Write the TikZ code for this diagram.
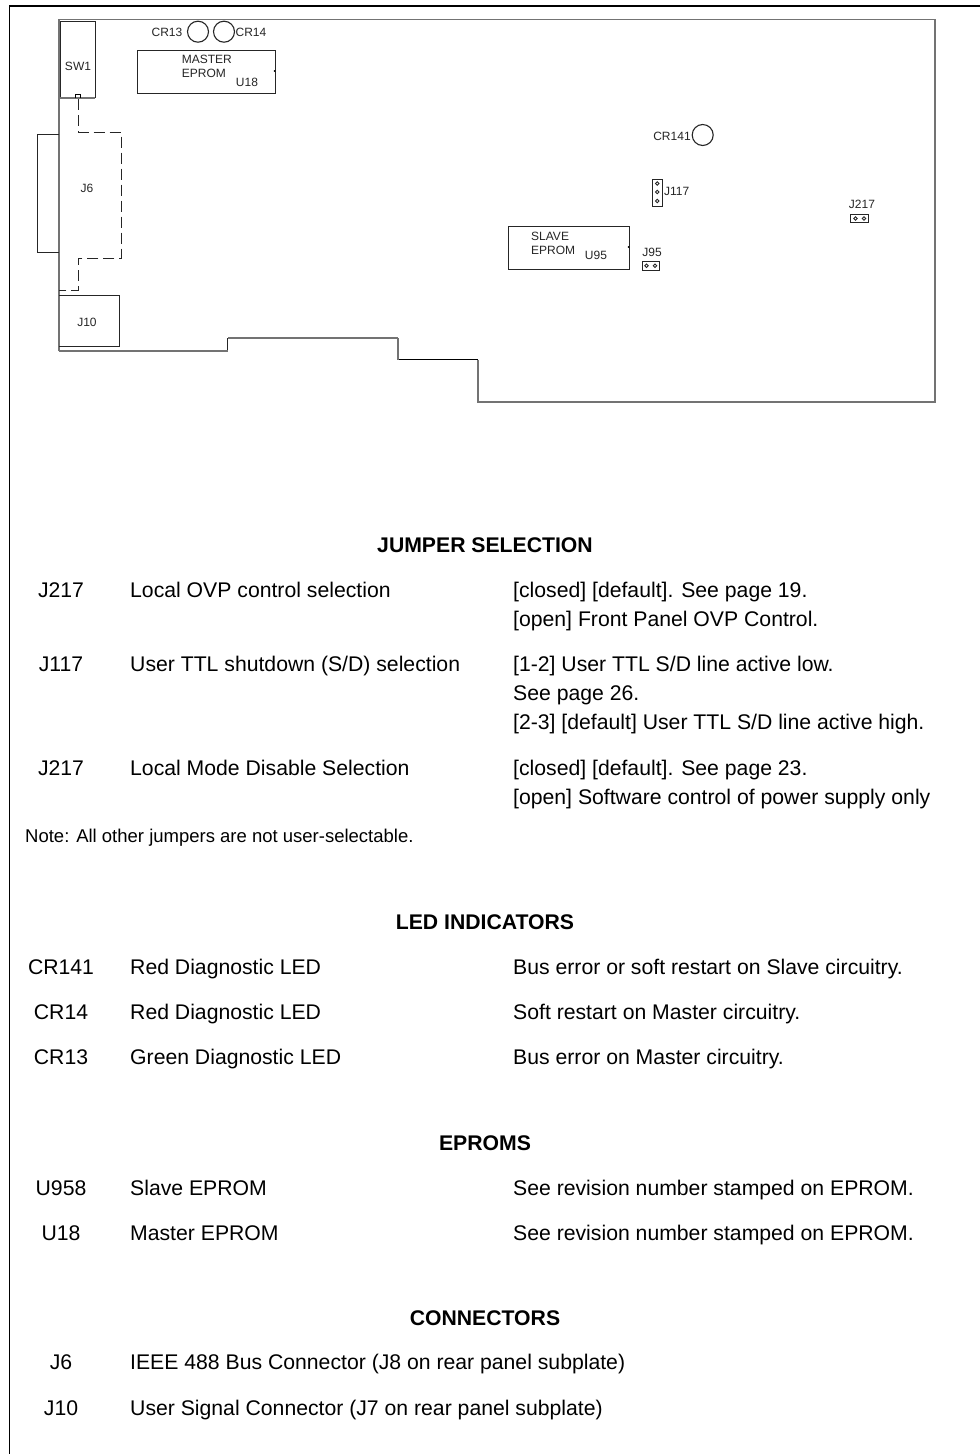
\documentclass[tikz,border=0pt]{standalone}
\usepackage{fontspec}
\setmainfont{Liberation Sans}
\begin{document}
\begin{tikzpicture}[x=1pt,y=-1pt,
  line cap=butt,
  pageline/.style={line width=1.5pt,black},
  boardline/.style={line width=1.7pt,black!55},
  thinpart/.style={line width=1pt,black!85},
  dashpart/.style={line width=.9pt,black!85,dash pattern=on 11pt off 5pt},
  hole/.style={draw,circle,line width=.9pt,inner sep=0pt,minimum size=3.6pt,black!85},
  led/.style={draw,circle,line width=1.1pt,inner sep=0pt,minimum size=21pt,black!85},
  silk/.style={inner sep=0pt,font=\fontsize{12}{12}\selectfont,text=black!85},
  silkl/.style={silk,anchor=base west},
  silkc/.style={silk,anchor=base},
  head/.style={inner sep=0pt,anchor=base,font=\bfseries\fontsize{21.2}{21}\selectfont},
  cola/.style={inner sep=0pt,anchor=base,font=\fontsize{21.2}{21}\selectfont},
  colb/.style={inner sep=0pt,anchor=base west,font=\fontsize{21.2}{21}\selectfont},
  notetext/.style={inner sep=0pt,anchor=base west,font=\fontsize{18.5}{18}\selectfont},
]
\useasboundingbox (0,0) rectangle (980,1454);
\fill[white] (0,0) rectangle (980,1454);
% page frame
\draw[pageline] (980,6) -- (9.5,6) -- (9.5,1454);
% board outline
\draw[boardline] (59,351) -- (59,19.5) -- (935,19.5) -- (935,402) -- (478,402) -- (478,359.5);
\draw[line width=1.1pt] (478,359.5) -- (398,359.5);
\draw[boardline] (398,359.5) -- (398,338);
\draw[boardline] (398,338) -- (227.5,338);
\draw[thinpart] (227.5,338) -- (227.5,351);
\draw[boardline] (59,351) -- (227.5,351);
% SW1
\draw[thinpart] (60.5,98) -- (60.5,21.5) -- (95,21.5) -- (95,98);
\draw[boardline] (59,98) -- (95,98);
\draw[line width=.9pt] (75,98) -- (75,94.5) -- (80,94.5) -- (80,98);
% J6 dashed
\draw[dashpart] (78.7,99) -- (78.7,132) -- (121,132) -- (121,258) -- (78.7,258) -- (78.7,290) -- (59,290);
\draw[thinpart] (59,134.7) -- (37.5,134.7) -- (37.5,252.5) -- (59,252.5);
% J10
\draw[thinpart] (59,295) -- (119.7,295) -- (119.7,346.7) -- (59,346.7);
% EPROMs
\draw[thinpart] (137.5,50.5) rectangle (275,93.5);
\fill (274.5,71) circle (1pt);
\draw[thinpart] (508.5,226.5) rectangle (629,269.5);
\fill (628.5,247) circle (1pt);
% LEDs
\node[led] (cr13) at (198,31.7) {};
\node[led] (cr14) at (224,31.7) {};
\node[led] (cr141) at (702.7,135) {};
% Jumpers
\draw[thinpart] (652.7,179.5) rectangle (662,206);
\node[hole] (h1) at (657.3,183.5) {};
\node[hole] (h2) at (657.3,192) {};
\node[hole] (h3) at (657.3,201) {};
\draw[thinpart] (850.5,214.5) rectangle (868,222.5);
\node[hole] (h4) at (855.5,218.5) {};
\node[hole] (h5) at (864,218.5) {};
\draw[thinpart] (642,261.7) rectangle (659,270);
\node[hole] (h6) at (646.5,265.8) {};
\node[hole] (h7) at (655,265.8) {};
% silk labels
\node[silkc] (l1) at (167,36.7) {CR13};
\node[silkc] (l2) at (251,36.7) {CR14};
\node[silkc] (l3) at (78,70.7) {SW1};
\node[silkl] (l4) at (181.7,63) {MASTER};
\node[silkl] (l5) at (181.7,77) {EPROM};
\node[silkc] (l6) at (247,86) {U18};
\node[silkc] (l7) at (87,192) {J6};
\node[silkc] (l8) at (87,326) {J10};
\node[silkc] (l9) at (672,140.7) {CR141};
\node[silkl] (l10) at (664,195.7) {J117};
\node[silkc] (l11) at (862,208) {J217};
\node[silkc] (l12) at (652,256.7) {J95};
\node[silkl] (l13) at (531,240.7) {SLAVE};
\node[silkl] (l14) at (531,254) {EPROM};
\node[silkc] (l15) at (596,259) {U95};
% headings
\node[head] (t1) at (485,552.3) {JUMPER SELECTION};
\node[head] (t2) at (485,929.3) {LED INDICATORS};
\node[head] (t3) at (485,1150.3) {EPROMS};
\node[head] (t4) at (485,1325.3) {CONNECTORS};
% jumper rows
\node[cola] (a1) at (61,597.5) {J217};
\node[colb] (b1) at (130,597.5) {Local OVP control selection};
\node[colb] (c1) at (513,597.5) {[closed] [default]. See page 19.};
\node[colb] (c1b) at (513,626) {[open] Front Panel OVP Control.};
\node[cola] (a2) at (61,671) {J117};
\node[colb] (b2) at (130,671) {User TTL shutdown (S/D) selection};
\node[colb] (c2) at (513,671) {[1-2] User TTL S/D line active low.};
\node[colb] (c2b) at (513,700) {See page 26.};
\node[colb] (c2c) at (513,729) {[2-3] [default] User TTL S/D line active high.};
\node[cola] (a3) at (61,775.5) {J217};
\node[colb] (b3) at (130,775.5) {Local Mode Disable Selection};
\node[colb] (c3) at (513,775.5) {[closed] [default]. See page 23.};
\node[colb] (c3b) at (513,804.5) {[open] Software control of power supply only};
\node[notetext] (n1) at (25,842.5) {Note: All other jumpers are not user-selectable.};
% LED rows
\node[cola] (a4) at (61,974.3) {CR141};
\node[colb] (b4) at (130,974.3) {Red Diagnostic LED};
\node[colb] (c4) at (513,974.3) {Bus error or soft restart on Slave circuitry.};
\node[cola] (a5) at (61,1019.3) {CR14};
\node[colb] (b5) at (130,1019.3) {Red Diagnostic LED};
\node[colb] (c5) at (513,1019.3) {Soft restart on Master circuitry.};
\node[cola] (a6) at (61,1064.3) {CR13};
\node[colb] (b6) at (130,1064.3) {Green Diagnostic LED};
\node[colb] (c6) at (513,1064.3) {Bus error on Master circuitry.};
% EPROM rows
\node[cola] (a7) at (61,1195.3) {U958};
\node[colb] (b7) at (130,1195.3) {Slave EPROM};
\node[colb] (c7) at (513,1195.3) {See revision number stamped on EPROM.};
\node[cola] (a8) at (61,1240.3) {U18};
\node[colb] (b8) at (130,1240.3) {Master EPROM};
\node[colb] (c8) at (513,1240.3) {See revision number stamped on EPROM.};
% connector rows
\node[cola] (a9) at (61,1369.3) {J6};
\node[colb] (b9) at (130,1369.3) {IEEE 488 Bus Connector (J8 on rear panel subplate)};
\node[cola] (a10) at (61,1415.3) {J10};
\node[colb] (b10) at (130,1415.3) {User Signal Connector (J7 on rear panel subplate)};
\end{tikzpicture}
\end{document}
